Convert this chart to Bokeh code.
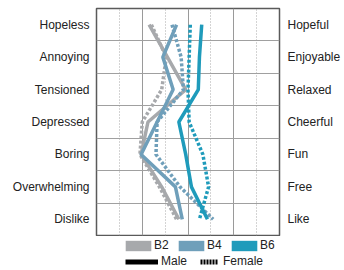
from bokeh.plotting import figure
from bokeh.layouts import column
from bokeh.models import Range1d, FixedTicker, LinearAxis, Legend, LegendItem, Grid
from bokeh.embed import file_html
from bokeh.resources import INLINE

left_labels = ["Hopeless", "Annoying", "Tensioned", "Depressed", "Boring", "Overwhelming", "Dislike"]
right_labels = ["Hopeful", "Enjoyable", "Relaxed", "Cheerful", "Fun", "Free", "Like"]

b2_male = [2.3, 3.1, 3.9, 2.25, 1.95, 2.85, 3.6]
b2_female = [2.4, 3.05, 2.85, 2.0, 1.9, 2.75, 3.5]
b4_male = [3.5, 2.9, 3.35, 2.65, 1.95, 3.45, 3.75]
b4_female = [3.3, 3.7, 3.8, 2.65, 2.6, 3.65, 5.1]
b6_male = [4.6, 4.5, 4.45, 3.6, 3.9, 4.15, 4.85]
b6_female = [4.1, 4.05, 4.0, 4.05, 4.65, 4.9, 4.5]

C_B2 = "#a7a9ac"
C_B4 = "#6f9fba"
C_B6 = "#1f9bbb"
FONT = "Liberation Sans"
NAN = float("nan")

n = len(left_labels)
ypos = list(range(n, 0, -1))

p = figure(width=344, height=236, x_range=Range1d(0, 8), y_range=Range1d(0.5, n + 0.5),
           output_backend="svg", toolbar_location=None, x_axis_location=None,
           min_border_left=96, min_border_right=65, min_border_top=8, min_border_bottom=1)
p.grid.visible = False
p.outline_line_color = "#5a5a5a"
p.outline_line_width = 1.5
p.background_fill_color = "white"

p.add_layout(Grid(dimension=0, ticker=FixedTicker(ticks=[2, 4, 6], minor_ticks=[1, 3, 5, 7]),
                  grid_line_color="#9a9a9a", grid_line_width=1,
                  minor_grid_line_color="#a8a8a8", minor_grid_line_dash="1 2"))
p.add_layout(Grid(dimension=1, ticker=FixedTicker(ticks=[y + 0.5 for y in ypos[1:]]),
                  grid_line_color="#a0a0a0", grid_line_width=1))

def style_axis(ax, labels, standoff):
    ax.ticker = FixedTicker(ticks=ypos)
    ax.major_label_overrides = {y: lab for y, lab in zip(ypos, labels)}
    ax.axis_line_color = None
    ax.major_tick_line_color = None
    ax.minor_tick_line_color = None
    ax.major_tick_out = 0
    ax.major_tick_in = 0
    ax.minor_tick_out = 0
    ax.minor_tick_in = 0
    ax.major_label_standoff = standoff
    ax.major_label_text_font = FONT
    ax.major_label_text_font_size = "12px"
    ax.major_label_text_color = "#222222"

style_axis(p.yaxis[0], left_labels, 7)
raxis = LinearAxis()
style_axis(raxis, right_labels, 8)
p.add_layout(raxis, "right")

W = 3.5
DOT = "3 2"
p.line(b2_female, ypos, line_color=C_B2, line_width=W, line_dash=DOT)
p.line(b2_male, ypos, line_color=C_B2, line_width=W)
p.line(b4_female, ypos, line_color=C_B4, line_width=W, line_dash=DOT)
p.line(b4_male, ypos, line_color=C_B4, line_width=W)
p.line(b6_female, ypos, line_color=C_B6, line_width=W, line_dash=DOT)
p.line(b6_male, ypos, line_color=C_B6, line_width=W)

# legend strip (its frame is aligned with the chart's frame by the column layout)
lgf = figure(width=344, height=34, x_range=Range1d(0, 1), y_range=Range1d(0, 1),
             output_backend="svg", toolbar_location=None,
             x_axis_location=None, y_axis_location=None,
             min_border=0, outline_line_color=None)
lgf.grid.visible = False

q2 = lgf.quad(left=[NAN], right=[NAN], top=[NAN], bottom=[NAN], fill_color=C_B2, line_color=None)
q4 = lgf.quad(left=[NAN], right=[NAN], top=[NAN], bottom=[NAN], fill_color=C_B4, line_color=None)
q6 = lgf.quad(left=[NAN], right=[NAN], top=[NAN], bottom=[NAN], fill_color=C_B6, line_color=None)
lm = lgf.line(x=[NAN], y=[NAN], line_color="black", line_width=5)
lf = lgf.line(x=[NAN], y=[NAN], line_color="black", line_width=5,
              line_dash="0 13 2 1 2 1 2 1 2 1 2 1 2 1")

def mk_legend(items, loc, gw, gh, standoff, spacing):
    lg = Legend(items=items, location=loc, orientation="horizontal",
                glyph_width=gw, glyph_height=gh, label_standoff=standoff, spacing=spacing,
                padding=0, margin=0, border_line_color=None, background_fill_alpha=0,
                label_text_font=FONT, label_text_font_size="12px", label_text_color="#222222",
                label_height=12)
    lgf.add_layout(lg)

mk_legend([LegendItem(label="B2", renderers=[q2]),
           LegendItem(label="B4", renderers=[q4]),
           LegendItem(label="B6", renderers=[q6])], (26, 18), 32, 13, 0, 1)
mk_legend([LegendItem(label="Male", renderers=[lm]),
           LegendItem(label="Female", renderers=[lf])], (29, 2), 33, 13, 3, 0)

open("out.html", "w").write(file_html(column(p, lgf, spacing=0), INLINE))
